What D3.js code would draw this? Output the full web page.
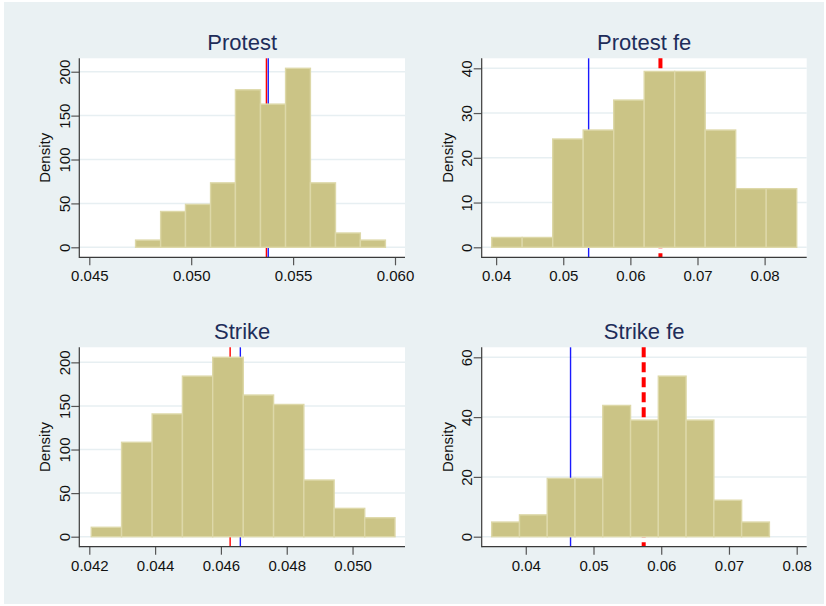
<!DOCTYPE html>
<html>
<head>
<meta charset="utf-8">
<script src="https://cdn.jsdelivr.net/npm/d3@7"></script>
<style>
  body { margin: 0; background: #fff; }
  text { font-family: "Liberation Sans", Arial, sans-serif; }
</style>
</head>
<body>
<svg id="chart"></svg>
<script>
// Bin edges (11 each) and densities (10 each)
const protestEdges = [0.04727, 0.04850, 0.04972, 0.05095, 0.05217, 0.05340, 0.05463, 0.05585, 0.05708, 0.05830, 0.05953];
const protestDensity = [8.2, 40.8, 48.9, 73.4, 179.4, 163.1, 203.9, 73.4, 16.3, 8.2];
const protestXTicks = [0.045, 0.050, 0.055, 0.060];
const protestYTicks = [0, 50, 100, 150, 200];
const protestLines = {red: 0.05369, blue: 0.05378};

const protestFeEdges = [0.03934, 0.04388, 0.04843, 0.05297, 0.05752, 0.06206, 0.06660, 0.07115, 0.07569, 0.08024, 0.08478];
const protestFeDensity = [2.2, 2.2, 24.2, 26.2, 32.9, 39.3, 39.3, 26.2, 13.1, 13.1];
const protestFeXTicks = [0.04, 0.05, 0.06, 0.07, 0.08];
const protestFeYTicks = [0, 10, 20, 30, 40];
const protestFeLines = {red: 0.06448, blue: 0.05378};

const strikeEdges = [0.04206, 0.04298, 0.04391, 0.04483, 0.04575, 0.04668, 0.04760, 0.04852, 0.04944, 0.05037, 0.05129];
const strikeDensity = [10.8, 108.3, 140.8, 184.2, 205.8, 162.5, 151.7, 65.0, 32.5, 21.7];
const strikeXTicks = [0.042, 0.044, 0.046, 0.048, 0.050];
const strikeYTicks = [0, 50, 100, 150, 200];
const strikeLines = {red: 0.04628, blue: 0.04659};

const strikeFeEdges = [0.03497, 0.03907, 0.04317, 0.04727, 0.05137, 0.05547, 0.05957, 0.06367, 0.06777, 0.07187, 0.07597];
const strikeFeDensity = [4.9, 7.3, 19.5, 19.5, 43.9, 39.0, 53.7, 39.0, 12.2, 4.9];
const strikeFeXTicks = [0.04, 0.05, 0.06, 0.07, 0.08];
const strikeFeYTicks = [0, 20, 40, 60];
const strikeFeLines = {red: 0.05741, blue: 0.04661};

const width = 826;
const height = 606;

const svg = d3.select("#chart")
    .attr("width", width)
    .attr("height", height);

// Light bluish graph background with a thin white frame
svg.append("rect")
    .attr("x", 4).attr("y", 2)
    .attr("width", 820).attr("height", 602)
    .attr("fill", "#eaf1f3");

// Plot regions for the 2x2 grid
const cols = [{x0: 79.3, x1: 405}, {x0: 481.7, x1: 806.7}];
const rows = [{y0: 58.3, y1: 257.3}, {y0: 347.3, y1: 546.7}];

const panels = [
    {title: "Protest", edges: protestEdges, dens: protestDensity, xt: protestXTicks, yt: protestYTicks,
     lines: protestLines, dashed: false, fmt: ".3f", col: 0, row: 0},
    {title: "Protest fe", edges: protestFeEdges, dens: protestFeDensity, xt: protestFeXTicks, yt: protestFeYTicks,
     lines: protestFeLines, dashed: true, fmt: ".2f", col: 1, row: 0},
    {title: "Strike", edges: strikeEdges, dens: strikeDensity, xt: strikeXTicks, yt: strikeYTicks,
     lines: strikeLines, dashed: false, fmt: ".3f", col: 0, row: 1},
    {title: "Strike fe", edges: strikeFeEdges, dens: strikeFeDensity, xt: strikeFeXTicks, yt: strikeFeYTicks,
     lines: strikeFeLines, dashed: true, fmt: ".2f", col: 1, row: 1}
];

panels.forEach(drawPanel);

function drawPanel(p) {
    const {x0, x1} = cols[p.col];
    const {y0, y1} = rows[p.row];
    const pad = 10;

    const x = d3.scaleLinear()
        .domain([Math.min(p.edges[0], p.xt[0]), Math.max(p.edges[p.edges.length - 1], p.xt[p.xt.length - 1])])
        .range([x0 + pad, x1 - pad]);

    const y = d3.scaleLinear()
        .domain([0, Math.max(d3.max(p.dens), d3.max(p.yt))])
        .range([y1 - pad, y0 + pad]);

    const g = svg.append("g");

    // White plot region
    g.append("rect")
        .attr("x", x0).attr("y", y0)
        .attr("width", x1 - x0).attr("height", y1 - y0)
        .attr("fill", "#fff");

    // Horizontal grid lines
    g.selectAll(".grid")
        .data(p.yt)
        .enter()
        .append("line")
        .attr("x1", x0).attr("x2", x1)
        .attr("y1", d => y(d)).attr("y2", d => y(d))
        .attr("stroke", "#e7eff2")
        .attr("stroke-width", 1.5);

    // Reference lines (drawn behind the bars)
    g.append("line")
        .attr("x1", x(p.lines.red)).attr("x2", x(p.lines.red))
        .attr("y1", y0).attr("y2", y1)
        .attr("stroke", "#ff0000")
        .attr("stroke-width", p.dashed ? 4 : 1.4)
        .attr("stroke-dasharray", p.dashed ? "10,5" : null);

    g.append("line")
        .attr("x1", x(p.lines.blue)).attr("x2", x(p.lines.blue))
        .attr("y1", y0).attr("y2", y1)
        .attr("stroke", "#1a1aff")
        .attr("stroke-width", 1.4);

    // Histogram bars
    g.selectAll(".bar")
        .data(p.dens)
        .enter()
        .append("rect")
        .attr("x", (d, i) => x(p.edges[i]))
        .attr("y", d => y(d))
        .attr("width", (d, i) => x(p.edges[i + 1]) - x(p.edges[i]))
        .attr("height", d => y(0) - y(d))
        .attr("fill", "#cbc486")
        .attr("stroke", "#ddd8a8")
        .attr("stroke-width", 1.4);

    // Y axis
    const yAxis = g.append("g")
        .attr("transform", `translate(${x0},0)`)
        .call(d3.axisLeft(y).tickValues(p.yt).tickSize(8).tickSizeOuter(0));
    yAxis.select(".domain").remove();
    yAxis.selectAll(".tick line").attr("stroke", "#555").attr("stroke-width", 1.2);
    yAxis.selectAll(".tick text")
        .attr("transform", "rotate(-90)")
        .attr("x", 0).attr("y", -9.5).attr("dy", null)
        .style("text-anchor", "middle")
        .style("font-size", "15px")
        .attr("fill", "#111");

    // X axis
    const xAxis = g.append("g")
        .attr("transform", `translate(0,${y1})`)
        .call(d3.axisBottom(x).tickValues(p.xt).tickSize(8).tickSizeOuter(0).tickFormat(d3.format(p.fmt)));
    xAxis.select(".domain").remove();
    xAxis.selectAll(".tick line").attr("stroke", "#555").attr("stroke-width", 1.2);
    xAxis.selectAll(".tick text")
        .attr("y", 24).attr("dy", null)
        .style("font-size", "15px")
        .attr("fill", "#111");

    // Axis lines spanning the whole plot region
    g.append("line")
        .attr("x1", x0).attr("x2", x0)
        .attr("y1", y0).attr("y2", y1 + 0.6)
        .attr("stroke", "#3a3a3a").attr("stroke-width", 1.2);
    g.append("line")
        .attr("x1", x0).attr("x2", x1)
        .attr("y1", y1).attr("y2", y1)
        .attr("stroke", "#3a3a3a").attr("stroke-width", 1.2);

    // Y axis title
    g.append("text")
        .attr("transform", `translate(${x0 - 29},${(y0 + y1) / 2}) rotate(-90)`)
        .style("text-anchor", "middle")
        .style("font-size", "15px")
        .attr("fill", "#111")
        .text("Density");

    // Panel title
    g.append("text")
        .attr("x", (x0 + x1) / 2)
        .attr("y", y0 - 8.5)
        .style("text-anchor", "middle")
        .style("font-size", "22px")
        .attr("fill", "#1e2d5a")
        .text(p.title);
}
</script>
</body>
</html>
